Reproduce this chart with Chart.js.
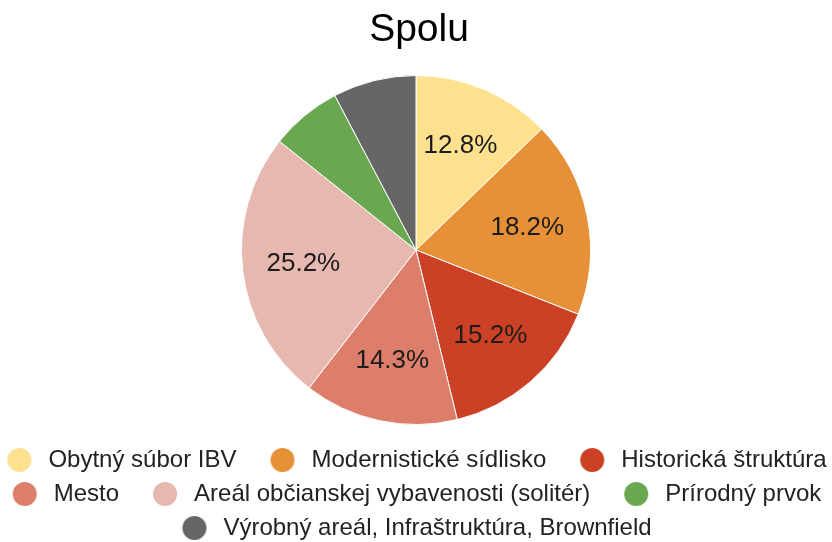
<!DOCTYPE html>
<html>
<head>
<meta charset="utf-8">
<script src="https://cdn.jsdelivr.net/npm/chart.js@4.4.1/dist/chart.umd.min.js"></script>
<style>
  html, body { margin: 0; padding: 0; background: #ffffff; }
  #wrap { width: 832px; height: 542px; position: relative; }
</style>
</head>
<body>
<div id="wrap"><canvas id="c"></canvas></div>
<script>
// ---- data ----
const chartTitle = 'Spolu';
const categories = [
  'Obytný súbor IBV',
  'Modernistické sídlisko',
  'Historická štruktúra',
  'Mesto',
  'Areál občianskej vybavenosti (solitér)',
  'Prírodný prvok',
  'Výrobný areál, Infraštruktúra, Brownfield'
];
const values = [12.8, 18.2, 15.2, 14.3, 25.2, 6.6, 7.7];
const colors = ['#fde18f', '#e69138', '#cc4125', '#dd7e6b', '#e6b8af', '#6aa84f', '#666666'];

// ---- styling ----
const FONT = '"Liberation Sans", Arial, sans-serif';
const minLabelPct = 10;
const labelRadiusFrac = 0.65;
const legendFontSize = 24;
const legendBoxW = 53;
const legendDot = 24;
const legendShift = -14;

function dotImage(color) {
  const cv = document.createElement('canvas');
  cv.width = legendBoxW;
  cv.height = legendDot;
  const g = cv.getContext('2d');
  g.fillStyle = color;
  g.beginPath();
  g.arc(legendBoxW - 5 - legendDot / 2, legendDot / 2, legendDot / 2, 0, Math.PI * 2);
  g.fill();
  return cv;
}
const dots = colors.map(dotImage);

const pctLabels = {
  id: 'pctLabels',
  afterDatasetsDraw(chart) {
    const meta = chart.getDatasetMeta(0);
    const ctx = chart.ctx;
    const total = values.reduce((a, b) => a + b, 0);
    ctx.save();
    ctx.font = '26px ' + FONT;
    ctx.fillStyle = '#1c1c1c';
    ctx.textAlign = 'center';
    ctx.textBaseline = 'middle';
    meta.data.forEach((arc, i) => {
      const pct = values[i] / total * 100;
      if (pct < minLabelPct) return;
      const p = arc.getProps(['x', 'y', 'startAngle', 'endAngle', 'outerRadius'], true);
      const mid = (p.startAngle + p.endAngle) / 2;
      const r = p.outerRadius * labelRadiusFrac;
      ctx.fillText(pct.toFixed(1) + '%', p.x + Math.cos(mid) * r, p.y + Math.sin(mid) * r);
    });
    ctx.restore();
  }
};

const legendNudge = {
  id: 'legendNudge',
  afterLayout(chart) {
    if (chart.legend) {
      chart.legend.left += legendShift;
      chart.legend.right += legendShift;
    }
  }
};

new Chart(document.getElementById('c'), {
  type: 'pie',
  data: {
    labels: categories,
    datasets: [{
      data: values,
      backgroundColor: colors,
      borderColor: '#ffffff',
      borderWidth: 1
    }]
  },
  options: {
    responsive: true,
    maintainAspectRatio: false,
    animation: false,
    layout: { padding: { top: 0, bottom: -8, left: -17, right: -23 } },
    plugins: {
      tooltip: { enabled: false },
      title: {
        display: true,
        text: chartTitle,
        color: '#000000',
        font: { family: FONT, size: 39, weight: 'normal', lineHeight: 1.2 },
        padding: { top: 6.6, bottom: 21.6 }
      },
      legend: {
        position: 'bottom',
        title: { display: true, text: '', font: { size: 10, lineHeight: 1.3 }, padding: 0 },
        labels: {
          usePointStyle: true,
          pointStyleWidth: legendBoxW,
          boxHeight: legendDot,
          padding: 10,
          color: '#222222',
          font: { family: FONT, size: legendFontSize },
          generateLabels(chart) {
            return categories.map((t, i) => ({
              text: t,
              fillStyle: colors[i],
              strokeStyle: colors[i],
              fontColor: '#222222',
              lineWidth: 0,
              pointStyle: dots[i],
              hidden: false,
              index: i
            }));
          }
        }
      }
    }
  },
  plugins: [pctLabels, legendNudge]
});
</script>
</body>
</html>
